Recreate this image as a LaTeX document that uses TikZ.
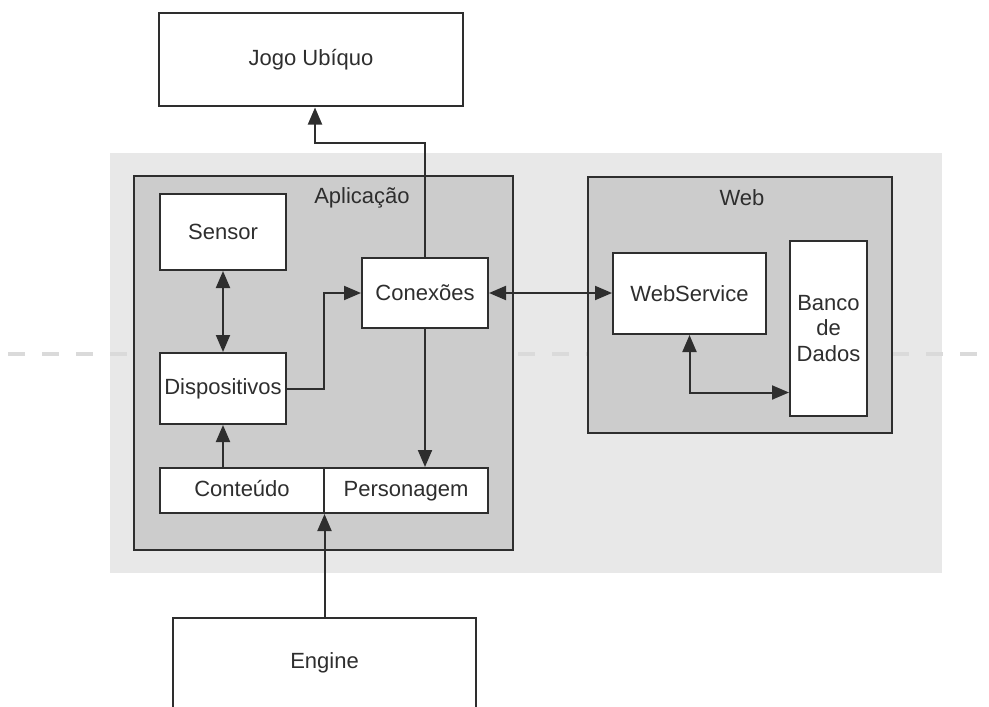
\documentclass[tikz,border=0pt]{standalone}
\usepackage{fontspec}
\setmainfont{Liberation Sans}
\usetikzlibrary{arrows.meta}

\definecolor{linegray}{HTML}{2E2E2E}
\definecolor{backgray}{HTML}{E8E8E8}
\definecolor{boxgray}{HTML}{CCCCCC}
\definecolor{dashgray}{HTML}{DADADA}

\tikzset{
  blk/.style={draw=linegray,line width=1pt,fill=white,inner sep=0pt,text=linegray,align=center},
  grp/.style={draw=linegray,line width=1pt,fill=boxgray,inner sep=0pt},
  ttl/.style={text=linegray},
  strip/.style={blk,minimum width=82pt,minimum height=22.5pt,text height=1.6ex,text depth=0.4ex},
  arr/.style={draw=linegray,line width=1pt,-{Triangle[length=8.5pt,width=7pt]}},
  darr/.style={arr,{Triangle[length=8.5pt,width=7pt]}-{Triangle[length=8.5pt,width=7pt]}},
}

\begin{document}
\begin{tikzpicture}[x=0.5pt,y=-0.5pt,font=\fontsize{11}{12.75}\selectfont]
\clip (0,0) rectangle (989,706);
\fill[backgray] (110,153) rectangle (942,573);
\draw[dashgray,line width=2pt,dash pattern=on 8.5pt off 8.5pt,dash phase=13pt] (0,354) -- (989,354);

\node[grp,minimum width=189.5pt,minimum height=187pt] (app) at (323.5,363) {};
\node[grp,minimum width=152pt,minimum height=128pt] (web) at (740,305) {};
\node[ttl] (apptitle) at (362,198) {Aplicação};
\node[ttl] (webtitle) at (742,198) {Web};

\node[blk,minimum width=152pt,minimum height=46.5pt] (jogo) at (311,60) {Jogo Ubíquo};
\node[blk,minimum width=63pt,minimum height=38pt] (sensor) at (223,232) {Sensor};
\node[blk,minimum width=63pt,minimum height=35pt] (conex) at (425,293) {Conexões};
\node[blk,minimum width=63pt,minimum height=35.5pt] (disp) at (223,388.5) {Dispositivos};
\node[strip] (cont) at (242,490.5) {Conteúdo};
\node[strip] (pers) at (406,490.5) {Personagem};
\node[blk,minimum width=76.5pt,minimum height=40.5pt] (websv) at (689.5,293.5) {WebService};
\node[blk,minimum width=38.5pt,minimum height=87.5pt] (banco) at (828.5,328.5) {Banco\\de\\Dados};
\node[blk,minimum width=151.5pt,minimum height=45pt] (engine) at (324.5,663) {Engine};

\draw[arr] (conex.north) |- ([xshift=2pt,yshift=-17.5pt]jogo.south) -- ([xshift=2pt]jogo.south);
\draw[darr] (sensor.south) -- (disp.north);
\draw[arr] (disp.east) -- ++(18.5pt,0) |- (conex.west);
\draw[arr] (disp.south |- cont.north) -- (disp.south);
\draw[arr] (conex.south) -- (conex.south |- pers.north);
\draw[arr] (engine.north) -- (engine.north |- cont.south);
\draw[darr] (conex.east) -- (conex.east -| websv.west);
\draw[darr] (websv.south) |- ([yshift=-32pt]banco.west);
\end{tikzpicture}
\end{document}
